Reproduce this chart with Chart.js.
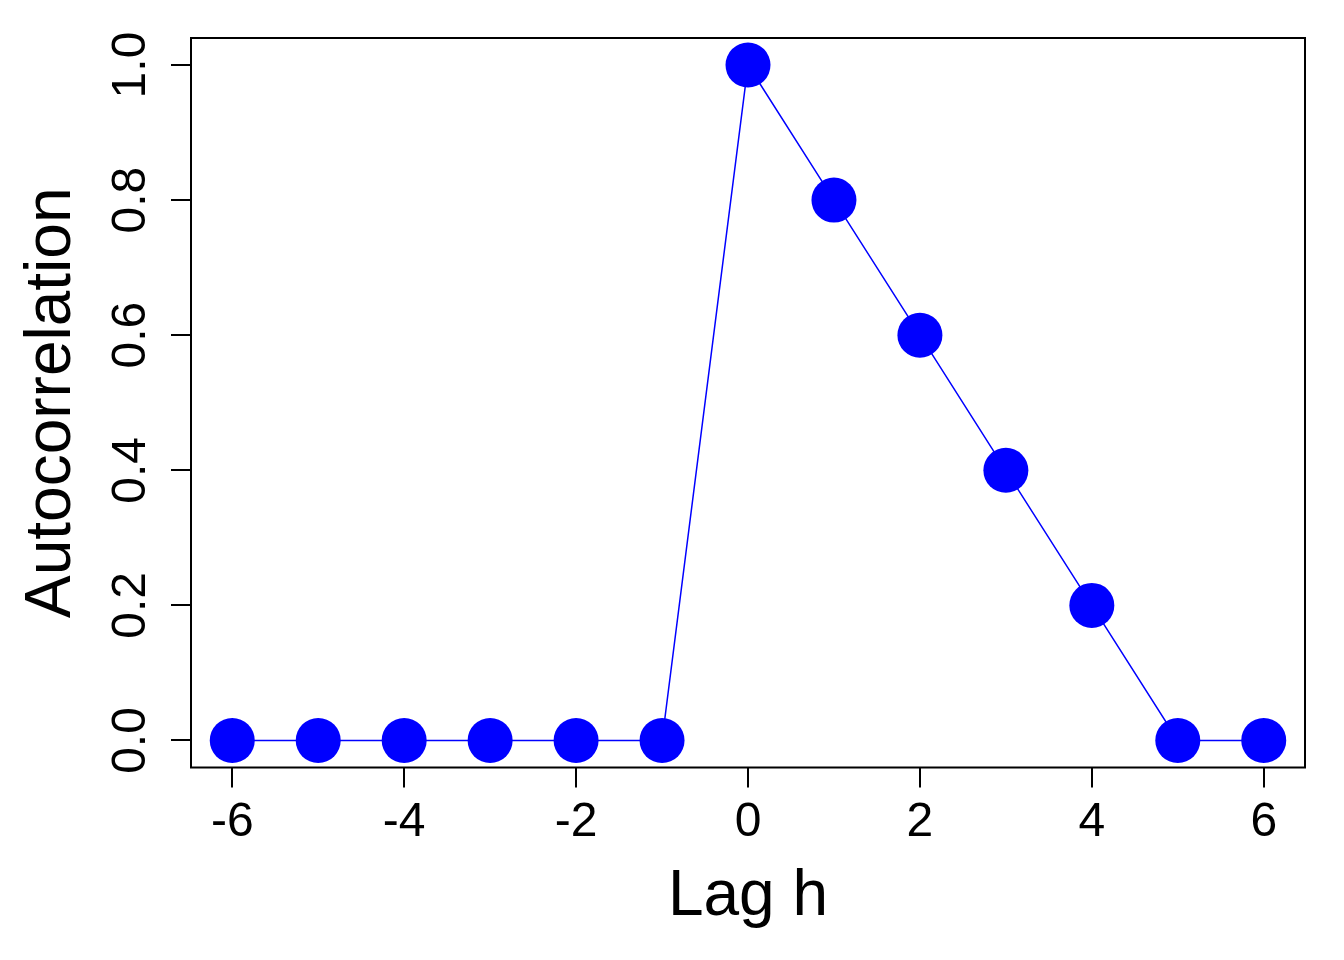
<!DOCTYPE html>
<html><head><meta charset="utf-8">
<script src="https://cdn.jsdelivr.net/npm/chart.js@4/dist/chart.umd.min.js"></script>
<style>html,body{margin:0;padding:0;background:#fff}#wrap{width:1344px;height:960px;position:relative}</style>
</head><body><div id="wrap"><canvas id="c" width="1344" height="960"></canvas></div>
<script>
const lags = [-6, -5, -4, -3, -2, -1, 0, 1, 2, 3, 4, 5, 6];
const autocorr = [0, 0, 0, 0, 0, 0, 1.0, 0.8, 0.6, 0.4, 0.2, 0, 0];
const xTickValues = [-6, -4, -2, 0, 2, 4, 6];
const xTickLabels = ['-6', '-4', '-2', '0', '2', '4', '6'];
const yTickValues = [0, 0.2, 0.4, 0.6, 0.8, 1.0];
const yTickLabels = ['0.0', '0.2', '0.4', '0.6', '0.8', '1.0'];
const xTitle = 'Lag h';
const yTitle = 'Autocorrelation';

const FONT = '"Liberation Sans", Arial, Helvetica, sans-serif';

const points = lags.map((x, i) => ({ x: x, y: autocorr[i] }));

const textPlugin = {
  id: 'rText',
  afterDraw(chart) {
    const ctx = chart.ctx;
    const a = chart.chartArea;
    const xs = chart.scales.x, ys = chart.scales.y;
    ctx.save();
    // box
    ctx.strokeStyle = '#000';
    ctx.lineWidth = 2;
    ctx.strokeRect(a.left, a.top, a.right - a.left, a.bottom - a.top);
    ctx.fillStyle = '#000';
    // x tick labels
    ctx.font = '48px ' + FONT;
    ctx.textAlign = 'center';
    ctx.textBaseline = 'alphabetic';
    xTickValues.forEach((v, i) => {
      ctx.fillText(xTickLabels[i], xs.getPixelForValue(v), 836);
    });
    // y tick labels (rotated)
    yTickValues.forEach((v, i) => {
      ctx.save();
      ctx.translate(145, ys.getPixelForValue(v));
      ctx.rotate(-Math.PI / 2);
      ctx.fillText(yTickLabels[i], 0, 0);
      ctx.restore();
    });
    // titles
    ctx.font = '64px ' + FONT;
    ctx.fillText(xTitle, (a.left + a.right) / 2, 915);
    ctx.save();
    ctx.translate(70, (a.top + a.bottom) / 2);
    ctx.rotate(-Math.PI / 2);
    ctx.fillText(yTitle, 0, 0);
    ctx.restore();
    ctx.restore();
  }
};

new Chart(document.getElementById('c'), {
  type: 'line',
  data: {
    datasets: [{
      data: points,
      borderColor: '#0000FF',
      backgroundColor: '#0000FF',
      borderWidth: 1.5,
      pointRadius: 22.5,
      pointHoverRadius: 22.5,
      pointBorderWidth: 0,
      pointBackgroundColor: '#0000FF',
      tension: 0,
      fill: false,
      clip: false
    }]
  },
  options: {
    responsive: false,
    animation: false,
    devicePixelRatio: 1,
    layout: { padding: { top: 38, right: 39, left: 0, bottom: 0 } },
    plugins: { legend: { display: false }, tooltip: { enabled: false } },
    events: [],
    scales: {
      x: {
        type: 'linear',
        min: -6.48,
        max: 6.48,
        afterBuildTicks: s => { s.ticks = xTickValues.map(v => ({ value: v })); },
        afterFit: s => { s.height = 192.5; },
        ticks: { display: false },
        grid: { display: true, drawOnChartArea: false, drawTicks: true, tickLength: 20, color: '#000', lineWidth: 2 },
        border: { display: false }
      },
      y: {
        type: 'linear',
        min: -0.04,
        max: 1.04,
        afterBuildTicks: s => { s.ticks = yTickValues.map(v => ({ value: v })); },
        afterFit: s => { s.width = 191; },
        ticks: { display: false },
        grid: { display: true, drawOnChartArea: false, drawTicks: true, tickLength: 20, color: '#000', lineWidth: 2 },
        border: { display: false }
      }
    }
  },
  plugins: [textPlugin]
});
</script>
</body></html>
